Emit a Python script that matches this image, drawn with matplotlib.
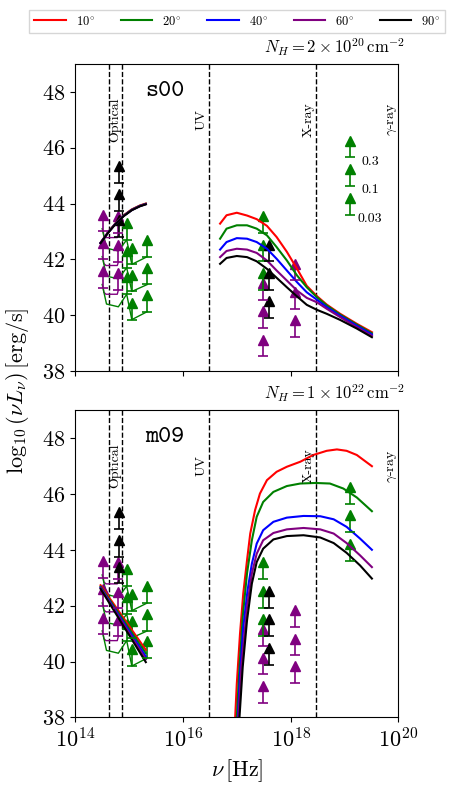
import numpy as np
import matplotlib
matplotlib.use('Agg')
import matplotlib.pyplot as plt

plt.rcParams['font.family'] = 'serif'
plt.rcParams['font.serif'] = ['cmr10']
plt.rcParams['mathtext.fontset'] = 'cm'
plt.rcParams['axes.unicode_minus'] = False
plt.rcParams['axes.formatter.use_mathtext'] = True

angles = ['10', '20', '40', '60', '90']
colors = ['red', 'green', 'blue', 'purple', 'black']

# band edges and labels (Hz)
band_lines = [4.3e14, 7.5e14, 3e16, 3e18]
band_names = ['Optical', 'UV', 'X-ray', r'$\gamma$-ray']
band_text_x = [5.5e14, 2.25e16, 2.2e18, 8e19]

# ---- model curves: log10(nu) vs log10(nu L_nu) ----
# s00, optical
s00_opt_x = [14.47, 14.6, 14.75, 14.9, 15.05, 15.2, 15.31]
s00_opt_y = [
    [42.60, 42.95, 43.30, 43.58, 43.79, 43.93, 44.00],
    [42.59, 42.94, 43.29, 43.57, 43.78, 43.92, 43.99],
    [42.59, 42.94, 43.28, 43.56, 43.77, 43.91, 43.98],
    [42.58, 42.93, 43.28, 43.56, 43.77, 43.91, 43.98],
    [42.58, 42.93, 43.27, 43.55, 43.76, 43.90, 43.97],
]
# s00, X-ray
s00_x_x = [16.69, 16.81, 17.0, 17.19, 17.37, 17.56, 17.74, 17.93, 18.12, 18.30,
           18.49, 18.67, 18.92, 19.23, 19.51]
s00_x_y = [
    [43.28, 43.58, 43.67, 43.57, 43.44, 43.20, 42.80, 42.27, 41.66, 41.05,
     40.68, 40.38, 40.05, 39.69, 39.39],
    [42.74, 43.10, 43.22, 43.22, 43.10, 42.86, 42.44, 41.96, 41.42, 41.00,
     40.64, 40.35, 40.02, 39.66, 39.35],
    [42.35, 42.62, 42.76, 42.74, 42.62, 42.38, 42.02, 41.60, 41.18, 40.82,
     40.55, 40.29, 39.98, 39.62, 39.31],
    [42.08, 42.30, 42.38, 42.35, 42.23, 41.96, 41.60, 41.24, 40.88, 40.62,
     40.46, 40.23, 39.93, 39.57, 39.26],
    [41.84, 42.05, 42.12, 42.08, 41.93, 41.66, 41.34, 41.00, 40.67, 40.37,
     40.19, 40.05, 39.83, 39.52, 39.21],
]

# m09, optical
m09_opt_x = [14.47, 15.31]
m09_opt_y = [
    [42.73, 40.42],
    [42.68, 40.30],
    [42.65, 40.18],
    [42.63, 40.08],
    [42.60, 39.98],
]
# m09, X-ray
m09_x_x = [
    [16.97, 17.0, 17.06, 17.12, 17.19, 17.25, 17.34, 17.43, 17.56, 17.74, 17.93,
     18.18, 18.42, 18.67, 18.86, 19.04, 19.23, 19.51],
    [17.0, 17.05, 17.11, 17.19, 17.28, 17.37, 17.49, 17.68, 17.93, 18.18, 18.46,
     18.73, 18.98, 19.23, 19.51],
    [17.02, 17.06, 17.12, 17.20, 17.28, 17.37, 17.49, 17.68, 17.93, 18.24, 18.55,
     18.80, 19.04, 19.29, 19.51],
    [17.03, 17.09, 17.19, 17.28, 17.37, 17.49, 17.68, 17.93, 18.24, 18.55, 18.80,
     19.04, 19.29, 19.51],
    [17.05, 17.11, 17.19, 17.28, 17.37, 17.49, 17.68, 17.93, 18.24, 18.55, 18.80,
     19.04, 19.29, 19.51],
]
m09_x_y = [
    [38.0, 39.2, 41.0, 42.43, 43.62, 44.58, 45.42, 46.01, 46.49, 46.79, 46.97,
     47.15, 47.39, 47.54, 47.59, 47.54, 47.39, 46.99],
    [38.0, 39.8, 41.59, 43.15, 44.34, 45.18, 45.71, 46.07, 46.28, 46.37, 46.39,
     46.37, 46.19, 45.87, 45.38],
    [38.0, 39.56, 41.23, 42.55, 43.50, 44.22, 44.70, 45.00, 45.15, 45.21, 45.20,
     45.09, 44.82, 44.40, 44.00],
    [38.0, 39.92, 41.95, 43.15, 43.86, 44.34, 44.60, 44.73, 44.78, 44.73, 44.58,
     44.24, 43.80, 43.38],
    [38.0, 39.80, 41.47, 42.79, 43.56, 44.04, 44.37, 44.49, 44.52, 44.44, 44.24,
     43.89, 43.44, 42.97],
]

# ---- observational lower limits (bottom of arrow), three efficiencies ----
lim_green_x = [14.955, 15.05, 15.34, 17.49]
lim_green_y = [[42.70, 41.70, 40.75],
               [41.82, 40.85, 39.84],
               [42.10, 41.10, 40.13],
               [42.95, 41.93, 40.91]]
lim_purple_x = [14.52, 14.80, 17.49, 18.08]
lim_purple_y = [[43.00, 42.00, 40.97],
                [42.95, 41.90, 40.90],
                [40.56, 39.54, 38.52],
                [41.25, 40.22, 39.23]]
lim_black_x = [14.82, 17.59]
lim_black_y = [[44.74, 43.75, 42.80],
               [41.93, 40.91, 39.89]]

# thin lines joining the optical limits
link_purple_x = [14.52, 14.53, 14.57, 14.78, 14.80]
link_purple_y = [[43.00, 42.85, 42.78, 42.78, 42.95],
                 [42.00, 41.85, 41.78, 41.78, 41.90],
                 [40.97, 40.82, 40.75, 40.75, 40.90]]
link_green_x = [14.50, 14.58, 14.80, 14.955, 15.05, 15.34]
link_green_y = [[43.10, 42.40, 42.30, 42.70, 41.82, 42.10],
                [42.10, 41.40, 41.30, 41.70, 40.85, 41.10],
                [41.10, 40.40, 40.30, 40.75, 39.84, 40.13]]

# efficiency key
key_x = 19.11
key_y = [45.65, 44.63, 43.60]
key_labels = ['0.3', '0.1', '0.03']

arrow_len = 0.6


def lower_limits(ax, lx, caps, c):
    for xi, ys in zip(lx, caps):
        x = np.full(len(ys), 10 ** xi)
        y = np.array(ys)
        ax.errorbar(x, y, yerr=[np.zeros_like(y), np.full_like(y, arrow_len)],
                    fmt='_', color=c, ms=7, mew=1.2, elinewidth=1.2, capsize=0)
        ax.plot(x, y + arrow_len, '^', color=c, ms=7)


def panel(ax, name, nh, opt_x, opt_y, xr_x, xr_y):
    for xv in band_lines:
        ax.axvline(xv, color='k', ls='--', lw=1)
    for name_b, xt in zip(band_names, band_text_x):
        ax.text(xt, 47, name_b, rotation=90, ha='center', va='center', fontsize=10)

    for k in range(3):
        ax.plot(10 ** np.array(link_purple_x), link_purple_y[k], color='purple', lw=1)
        ax.plot(10 ** np.array(link_green_x), link_green_y[k], color='green', lw=1)
    lower_limits(ax, lim_purple_x, lim_purple_y, 'purple')
    lower_limits(ax, lim_green_x, lim_green_y, 'green')
    lower_limits(ax, lim_black_x, lim_black_y, 'black')
    lower_limits(ax, [key_x], [key_y], 'green')

    for i, c in enumerate(colors):
        ox = opt_x if np.ndim(opt_x[0]) == 0 else opt_x[i]
        xx = xr_x if np.ndim(xr_x[0]) == 0 else xr_x[i]
        ax.plot(10 ** np.array(ox), opt_y[i], color=c, lw=1.5)
        ax.plot(10 ** np.array(xx), xr_y[i], color=c, lw=1.5,
                label=r'$%s^{\circ}$' % angles[i])

    ax.text(2e15, 48, name, family='cmtt10', fontsize=18, ha='left', va='center')
    ax.text(1.022, 1.036, nh, transform=ax.transAxes, ha='right', va='baseline',
            fontsize=12)
    ax.set_xscale('log')
    ax.set_xlim(1e14, 1e20)
    ax.set_ylim(38, 49)
    ax.set_xticks([1e14, 1e16, 1e18, 1e20])
    ax.xaxis.set_minor_locator(matplotlib.ticker.NullLocator())
    ax.set_yticks([38, 40, 42, 44, 46, 48])
    ax.tick_params(labelsize=16)


fig = plt.figure(figsize=(4.53, 7.85), dpi=100)
ax1 = fig.add_axes([0.1662, 0.5274, 0.713, 0.3911])
ax2 = fig.add_axes([0.1662, 0.086, 0.713, 0.3917])

panel(ax1, 's00', r'$N_H = 2\times10^{20}\,\mathrm{cm}^{-2}$',
      s00_opt_x, s00_opt_y, s00_x_x, s00_x_y)
panel(ax2, 'm09', r'$N_H = 1\times10^{22}\,\mathrm{cm}^{-2}$',
      m09_opt_x, m09_opt_y, m09_x_x, m09_x_y)
ax1.tick_params(labelbottom=False)

for lab, yk in zip(key_labels, key_y):
    ax1.text(3e19, yk - 0.15, lab, ha='center', va='center', fontsize=10)

ax2.set_xlabel(r'$\nu\,[\mathrm{Hz}]$', fontsize=16)
fig.text(0.038, 0.502, r'$\log_{10}(\nu L_\nu)\,[\mathrm{erg/s}]$', rotation=90,
         ha='center', va='center', fontsize=16)

handles, labels = ax1.get_legend_handles_labels()
fig.legend(handles, labels, loc='center', bbox_to_anchor=(0.524, 0.973), ncol=5,
           fontsize=9, handlelength=2.5, columnspacing=2.1, fancybox=False)

fig.savefig('out.png', dpi=100)
